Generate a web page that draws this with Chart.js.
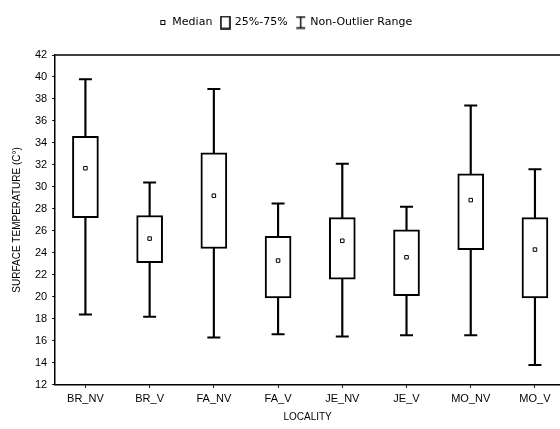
<!DOCTYPE html>
<html>
<head>
<meta charset="utf-8">
<script src="https://cdn.jsdelivr.net/npm/chart.js@4"></script>
<style>
  html, body { margin: 0; padding: 0; background: #fff; overflow: hidden; }
  #wrap { width: 560px; height: 429px; position: relative; }
</style>
</head>
<body>
<div id="wrap"><canvas id="chart"></canvas></div>
<script>
const localities = ['BR_NV', 'BR_V', 'FA_NV', 'FA_V', 'JE_NV', 'JE_V', 'MO_NV', 'MO_V'];
const medians = [31.7, 25.3, 29.2, 23.3, 25.1, 23.6, 28.8, 24.3];
const quartile25 = [27.2, 23.1, 24.4, 19.9, 21.6, 20.1, 24.3, 19.9];
const quartile75 = [34.6, 27.4, 33.1, 25.5, 27.2, 26.1, 31.2, 27.2];
const rangeMin = [18.4, 18.2, 16.3, 16.6, 16.4, 16.5, 16.5, 13.8];
const rangeMax = [39.8, 30.4, 38.9, 28.5, 32.1, 28.2, 37.4, 31.6];

const font = { family: '"Liberation Sans", Arial, sans-serif', size: 11 };

// little legend icons
function icon(w, h, draw) {
  const c = document.createElement('canvas');
  c.width = w; c.height = h;
  const g = c.getContext('2d');
  g.strokeStyle = '#000';
  draw(g);
  return c;
}
const medianIcon = icon(7, 7, g => { g.lineWidth = 1; g.strokeRect(1.5, 1.5, 4, 4); });
const boxIcon = icon(11, 14, g => { g.lineWidth = 1.6; g.strokeRect(1, 1, 9, 12); });
const rangeIcon = icon(11, 14, g => {
  g.lineWidth = 1.4;
  g.beginPath();
  g.moveTo(1, 1.5); g.lineTo(10, 1.5);
  g.moveTo(5.5, 1.5); g.lineTo(5.5, 12.5);
  g.moveTo(1, 12.5); g.lineTo(10, 12.5);
  g.stroke();
});

// top edge of the plot frame; the right side runs off the page
const frame = {
  id: 'frame',
  afterDraw(chart) {
    const { ctx, chartArea: a } = chart;
    ctx.save();
    ctx.strokeStyle = '#000';
    ctx.lineWidth = 1.5;
    ctx.beginPath();
    ctx.moveTo(a.left, a.top);
    ctx.lineTo(a.right + 2, a.top);
    ctx.stroke();
    ctx.restore();
  }
};

// push the plot a bit further below the legend
const legendGap = {
  id: 'legendGap',
  beforeInit(chart) {
    const fit = chart.legend.fit;
    chart.legend.fit = function () {
      fit.call(this);
      this.height += 17;
    };
  }
};

new Chart(document.getElementById('chart'), {
  type: 'bar',
  data: {
    datasets: [{
      type: 'line',
      label: 'Median',
      data: localities.map((_, i) => ({ x: i, y: medians[i] })),
      showLine: false,
      pointStyle: 'rect',
      pointRadius: 2.5,
      pointBackgroundColor: '#fff',
      pointBorderColor: '#000',
      pointBorderWidth: 1,
      order: 0
    }, {
      label: '25%-75%',
      data: localities.map((_, i) => ({ x: i, y: [quartile25[i], quartile75[i]] })),
      backgroundColor: '#fff',
      borderColor: '#000',
      borderWidth: 2,
      borderSkipped: false,
      barThickness: 26,
      grouped: false,
      order: 1
    }, {
      type: 'line',
      label: 'capHigh',
      data: localities.map((_, i) => ({ x: i, y: rangeMax[i] })),
      showLine: false,
      pointStyle: 'line',
      pointRadius: 6.5,
      pointBorderColor: '#000',
      pointBorderWidth: 2,
      order: 2
    }, {
      type: 'line',
      label: 'capLow',
      data: localities.map((_, i) => ({ x: i, y: rangeMin[i] })),
      showLine: false,
      pointStyle: 'line',
      pointRadius: 6.5,
      pointBorderColor: '#000',
      pointBorderWidth: 2,
      order: 2
    }, {
      label: 'Non-Outlier Range',
      data: localities.map((_, i) => ({ x: i, y: [rangeMin[i], rangeMax[i]] })),
      backgroundColor: '#000',
      borderWidth: 0,
      barThickness: 1.5,
      grouped: false,
      order: 3
    }]
  },
  options: {
    responsive: true,
    maintainAspectRatio: false,
    animation: false,
    layout: { autoPadding: false, padding: { left: 11, right: 0, top: 8, bottom: 6 } },
    plugins: {
      tooltip: { enabled: false },
      legend: {
        position: 'top',
        labels: {
          color: '#000',
          font: { family: '"DejaVu Sans", sans-serif', size: 11 },
          usePointStyle: true,
          pointStyleWidth: 8,
          padding: 9,
          generateLabels: () => [
            { text: 'Median', pointStyle: medianIcon, datasetIndex: 0, hidden: false, fontColor: '#000' },
            { text: '25%-75%', pointStyle: boxIcon, datasetIndex: 1, hidden: false, fontColor: '#000' },
            { text: 'Non-Outlier Range', pointStyle: rangeIcon, datasetIndex: 4, hidden: false, fontColor: '#000' }
          ]
        }
      }
    },
    scales: {
      x: {
        type: 'linear',
        offset: false,
        min: -0.47,
        max: 7.39,
        afterBuildTicks: axis => { axis.ticks = localities.map((_, i) => ({ value: i })); },
        ticks: {
          color: '#000',
          font: font,
          padding: 5,
          maxRotation: 0,
          autoSkip: false,
          callback: v => localities[v]
        },
        grid: { drawOnChartArea: false, offset: false, color: '#000', tickLength: 3 },
        border: { color: '#000', width: 1.5 },
        title: { display: true, text: 'LOCALITY', color: '#000', font: { family: font.family, size: 10 }, padding: { top: 0, bottom: 0 } }
      },
      y: {
        min: 12,
        max: 42,
        ticks: { stepSize: 2, color: '#000', font: font, padding: 5 },
        grid: { drawOnChartArea: false, color: '#000', tickLength: 3 },
        border: { color: '#000', width: 1.5 },
        title: { display: true, text: 'SURFACE TEMPERATURE (C°)', color: '#000', font: { family: font.family, size: 10 }, padding: { top: 0, bottom: 7 } }
      }
    }
  },
  plugins: [frame, legendGap]
});
</script>
</body>
</html>
